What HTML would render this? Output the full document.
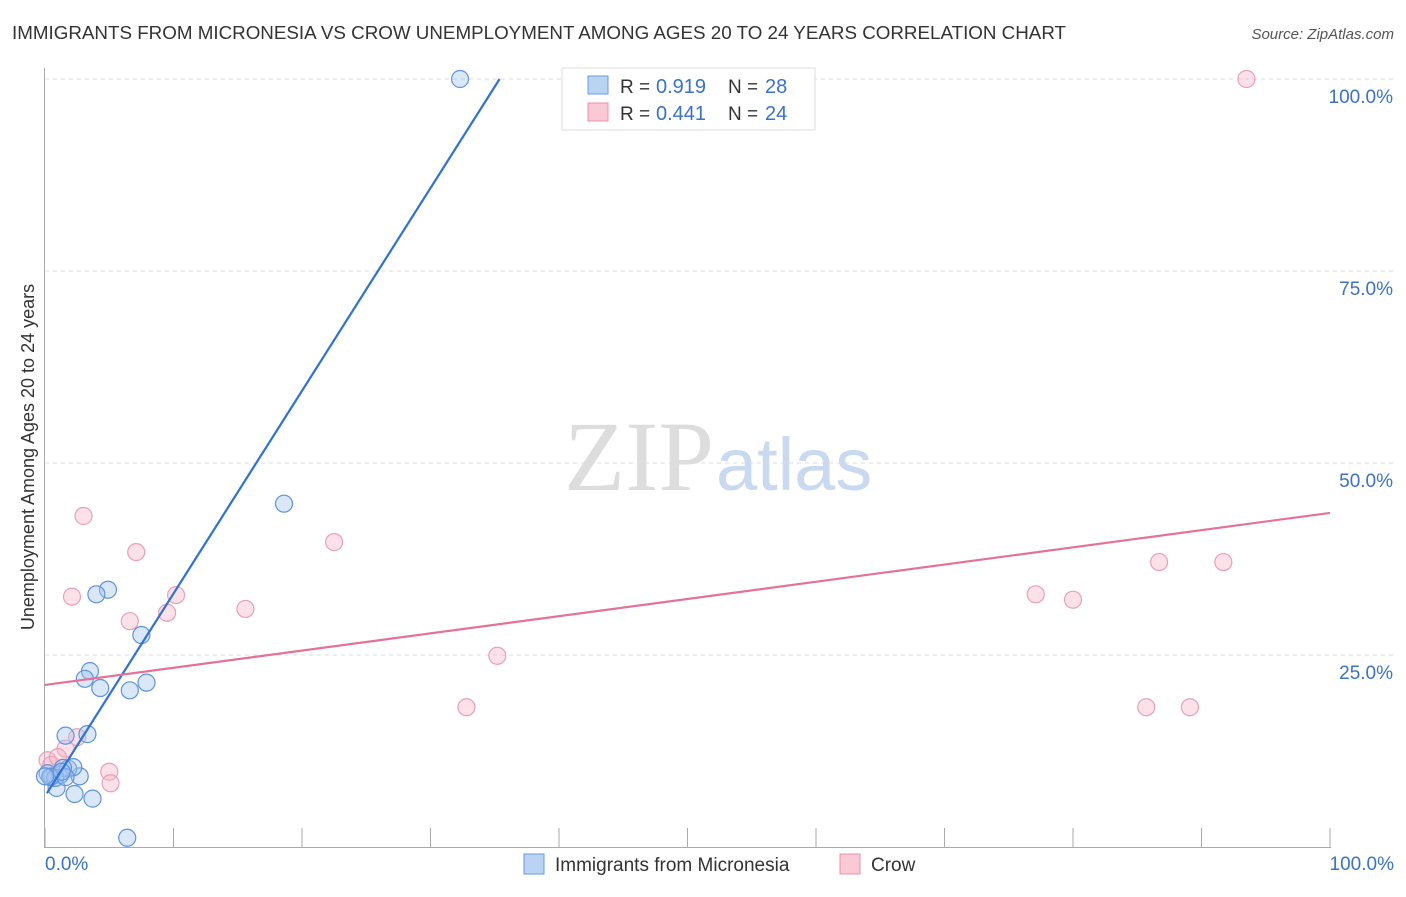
<!DOCTYPE html>
<html><head><meta charset="utf-8"><style>
body{margin:0;background:#fff;font-family:"Liberation Sans",sans-serif;}
</style></head><body>
<svg width="1406" height="892" xmlns="http://www.w3.org/2000/svg">
<text x="12" y="39" font-size="18.8" fill="#333">IMMIGRANTS FROM MICRONESIA VS CROW UNEMPLOYMENT AMONG AGES 20 TO 24 YEARS CORRELATION CHART</text>
<text x="1394" y="39" font-size="15" font-style="italic" fill="#555" text-anchor="end">Source: ZipAtlas.com</text>
<text x="714" y="490" font-size="100" font-family="Liberation Serif,serif" fill="#ddd" text-anchor="end">ZIP</text>
<text x="716" y="490" font-size="74" fill="#c9d9ef">atlas</text>
<g id="grid"></g>
<g id="axes"></g>
<g id="pts"></g>
<g id="lines"></g>
<text transform="translate(34,457) rotate(-90)" font-size="18" fill="#333" text-anchor="middle">Unemployment Among Ages 20 to 24 years</text>
<text x="45" y="870" font-size="19" fill="#3a72c8">0.0%</text>
<text x="1394" y="870" font-size="19" fill="#3a72c8" text-anchor="end">100.0%</text>
<g>
<rect x="562" y="68" width="253" height="62" fill="#fff" stroke="#ddd"/>
<rect x="588" y="76" width="20" height="18" fill="#b9d3f3" stroke="#6a9be0"/>
<rect x="588" y="103" width="20" height="18" fill="#fbc8d6" stroke="#e890ab"/>
<text x="620" y="93" font-size="19" fill="#333">R = </text><text x="656" y="93" font-size="20" fill="#3a72c8">0.919</text>
<text x="728" y="93" font-size="19" fill="#333">N = </text><text x="765" y="93" font-size="20" fill="#3a72c8">28</text>
<text x="620" y="120" font-size="19" fill="#333">R = </text><text x="656" y="120" font-size="20" fill="#3a72c8">0.441</text>
<text x="728" y="120" font-size="19" fill="#333">N = </text><text x="765" y="120" font-size="20" fill="#3a72c8">24</text>
</g>
<g>
<rect x="524" y="854" width="20" height="20" fill="#b9d3f3" stroke="#6a9be0"/>
<text x="555" y="871" font-size="19" fill="#333">Immigrants from Micronesia</text>
<rect x="840" y="854" width="20" height="20" fill="#fbc8d6" stroke="#e890ab"/>
<text x="871" y="871" font-size="19" fill="#333">Crow</text>
</g>
</svg>
<script>
const blueX=[32.3,18.6,4.9,4.0,7.5,3.5,3.1,4.3,6.6,7.9,1.6,3.3,6.4,3.7,2.3,0.9,2.7,0.5,1.2,1.8,2.2,1.4,0.2,0.8,0.4,1.6,1.3,0.0];
const blueY=[100,44.7,33.5,32.9,27.6,22.9,21.9,20.7,20.4,21.4,14.5,14.7,1.2,6.3,6.9,7.7,9.2,9.2,9.4,10.2,10.4,10.3,9.6,9.0,9.1,9.1,9.8,9.2];
const pinkX=[93.5,3.0,7.1,22.5,2.1,10.2,9.5,6.6,15.6,35.2,32.8,77.1,80.0,86.7,91.7,85.7,89.1,5.0,5.1,1.6,2.5,0.2,0.5,1.0];
const pinkY=[100,43.1,38.4,39.7,32.6,32.8,30.5,29.4,31.0,24.9,18.2,32.9,32.2,37.1,37.1,18.2,18.2,9.8,8.3,12.8,14.3,11.3,10.7,11.7];
const blueFit=[6.6,2.64];
const pinkFit=[21.1,0.224];
const yTicks=[25,50,75,100];
const yTickLabels=["25.0%","50.0%","75.0%","100.0%"];
const xTicks=[0,10,20,30,40,50,60,70,80,90,100];
const NS="http://www.w3.org/2000/svg";
const sx=v=>45+v*12.85, sy=v=>847-v*7.68;
function mk(t,a,p){const e=document.createElementNS(NS,t);for(const k in a)e.setAttribute(k,a[k]);p.appendChild(e);return e;}
const grid=document.getElementById('grid'),axes=document.getElementById('axes'),pts=document.getElementById('pts'),lines=document.getElementById('lines');
yTicks.forEach((v,i)=>{
 const l=mk('line',{x1:45,x2:1394,y1:sy(v),y2:sy(v),stroke:'#ddd','stroke-dasharray':'4,4'},grid);
 
 
 const t=mk('text',{x:1393,y:sy(v)+24,'font-size':19,fill:'#3a72c8','text-anchor':'end'},grid);
 t.textContent=yTickLabels[i];
 
 
});
const ax=mk('line',{x1:44.5,x2:44.5,y1:68,y2:847,stroke:'#aaa'},axes);


const bx=mk('line',{x1:44,x2:1331,y1:847.5,y2:847.5,stroke:'#aaa'},axes);


xTicks.forEach(v=>{
 const t=mk('line',{x1:sx(v),x2:sx(v),y1:828,y2:847,stroke:'#aaa'},axes);
 
 
});
pinkX.forEach((x,i)=>{
 const c=mk('circle',{cx:sx(x),cy:sy(pinkY[i]),r:8.5,fill:'rgba(248,180,200,0.4)',stroke:'#e9a0b8','stroke-width':1.2},pts);
 
 
});
blueX.forEach((x,i)=>{
 const c=mk('circle',{cx:sx(x),cy:sy(blueY[i]),r:8.5,fill:'rgba(160,195,240,0.4)',stroke:'#5f93dc','stroke-width':1.2},pts);
 
 
});
const bx0=0.15,bx1=(100-blueFit[0])/blueFit[1];
const bl=mk('line',{x1:sx(bx0),y1:sy(blueFit[0]+blueFit[1]*bx0),x2:sx(bx1),y2:sy(100),stroke:'#2f72d4','stroke-width':2.2},lines);


const pl=mk('line',{x1:sx(0),y1:sy(pinkFit[0]),x2:sx(100),y2:sy(pinkFit[0]+pinkFit[1]*100),stroke:'#e5719a','stroke-width':2.2},lines);


</script>
</body></html>
